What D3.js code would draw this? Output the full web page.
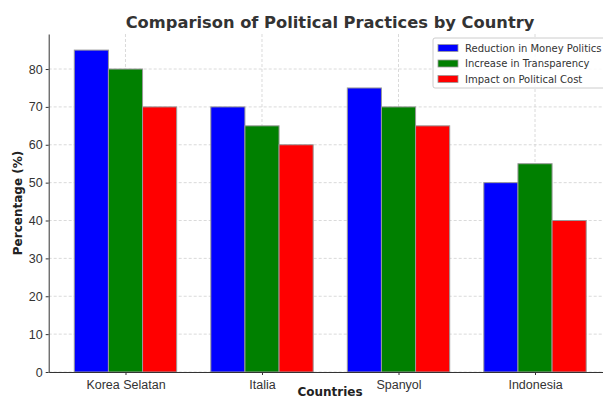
<!DOCTYPE html>
<html>
<head>
<meta charset="utf-8">
<script src="https://cdn.jsdelivr.net/npm/d3@7"></script>
<style>
  body { margin: 0; background: #fff; }
  svg { font-family: "DejaVu Sans", sans-serif; }
  .grid line { stroke: #d0d0d0; stroke-dasharray: 3,2; stroke-width: 0.8; }
  .tick text { fill: #333; font-size: 12.5px; }
</style>
</head>
<body>
<div id="chart"></div>
<script>
var countries = ['Korea Selatan', 'Italia', 'Spanyol', 'Indonesia'];
var seriesNames = ['Reduction in Money Politics', 'Increase in Transparency', 'Impact on Political Cost'];
var moneyPolitics = [85, 70, 75, 50];
var transparency = [80, 65, 70, 55];
var politicalCost = [70, 60, 65, 40];
var colors = ['#0000ff', '#008000', '#ff0000'];
var yTicks = [0, 10, 20, 30, 40, 50, 60, 70, 80];

var width = 603,
    height = 400;

var svg = d3.select('#chart').append('svg')
    .attr('width', width)
    .attr('height', height);

var barW = 0.25;
var x = d3.scaleLinear().domain([-0.5625, 3.5625]).range([48.7, 611.8]);
var y = d3.scaleLinear().domain([0, 89.25]).range([372, 34]);

// grid
var grid = svg.append('g').attr('class', 'grid');
grid.selectAll('line.h').data(yTicks).enter().append('line')
    .attr('class', 'h')
    .attr('x1', x.range()[0]).attr('x2', x.range()[1])
    .attr('y1', function(d) {return y(d);}).attr('y2', function(d) {return y(d);});
grid.selectAll('line.v').data(countries).enter().append('line')
    .attr('class', 'v')
    .attr('x1', function(d, i) {return x(i);}).attr('x2', function(d, i) {return x(i);})
    .attr('y1', y.range()[0]).attr('y2', y.range()[1]);

var series = [moneyPolitics, transparency, politicalCost];

series.forEach(function(vals, s) {
    svg.append('g').selectAll('rect').data(vals).enter().append('rect')
        .attr('x', function(d, i) {return x(i + (s - 1) * barW - barW / 2);})
        .attr('width', x(barW) - x(0))
        .attr('y', function(d) {return y(d);})
        .attr('height', function(d) {return y(0) - y(d);})
        .attr('fill', colors[s])
        .attr('stroke', '#999')
        .attr('stroke-width', 1);
});

// axes
var xAxis = d3.axisBottom(x)
    .tickValues(d3.range(countries.length))
    .tickFormat(function(d) {return countries[d];})
    .tickSize(3).tickSizeOuter(0);
var gx = svg.append('g').attr('transform', 'translate(0,' + y(0) + ')').call(xAxis);
gx.select('.domain').attr('stroke', '#333');
gx.selectAll('.tick line').attr('stroke', '#333');
gx.selectAll('.tick text').attr('dy', '0.85em');

var yAxis = d3.axisLeft(y).tickValues(yTicks).tickSize(3).tickSizeOuter(0);
var gy = svg.append('g').attr('transform', 'translate(' + x.range()[0] + ',0)').call(yAxis);
gy.select('.domain').attr('stroke', '#333');
gy.selectAll('.tick line').attr('stroke', '#333');

// labels
svg.append('text')
    .attr('x', 330).attr('y', 28)
    .attr('text-anchor', 'middle')
    .attr('font-size', 16.3).attr('font-weight', 'bold').attr('fill', '#333')
    .text('Comparison of Political Practices by Country');

svg.append('text')
    .attr('transform', 'translate(22,' + ((y(0) + y(89.25)) / 2) + ') rotate(-90)')
    .attr('text-anchor', 'middle')
    .attr('font-size', 12).attr('font-weight', 'bold').attr('fill', '#222')
    .text('Percentage (%)');

svg.append('text')
    .attr('x', 330).attr('y', 396)
    .attr('text-anchor', 'middle')
    .attr('font-size', 12).attr('font-weight', 'bold').attr('fill', '#222')
    .text('Countries');

// legend
var legend = svg.append('g').attr('transform', 'translate(433,38)');
legend.append('rect')
    .attr('width', 180).attr('height', 50)
    .attr('rx', 2)
    .attr('fill', 'rgba(255,255,255,0.85)')
    .attr('stroke', '#ccc');
var items = legend.selectAll('g.item').data(seriesNames).enter().append('g')
    .attr('transform', function(d, i) {return 'translate(5,' + (9.5 + i * 15.5) + ')';});
items.append('rect')
    .attr('width', 20).attr('height', 7)
    .attr('y', -3)
    .attr('fill', function(d, i) {return colors[i];})
    .attr('stroke', '#999').attr('stroke-width', 0.8);
items.append('text')
    .attr('x', 27).attr('y', 4)
    .attr('font-size', 10).attr('fill', '#333')
    .text(function(d) {return d;});
</script>
</body>
</html>
